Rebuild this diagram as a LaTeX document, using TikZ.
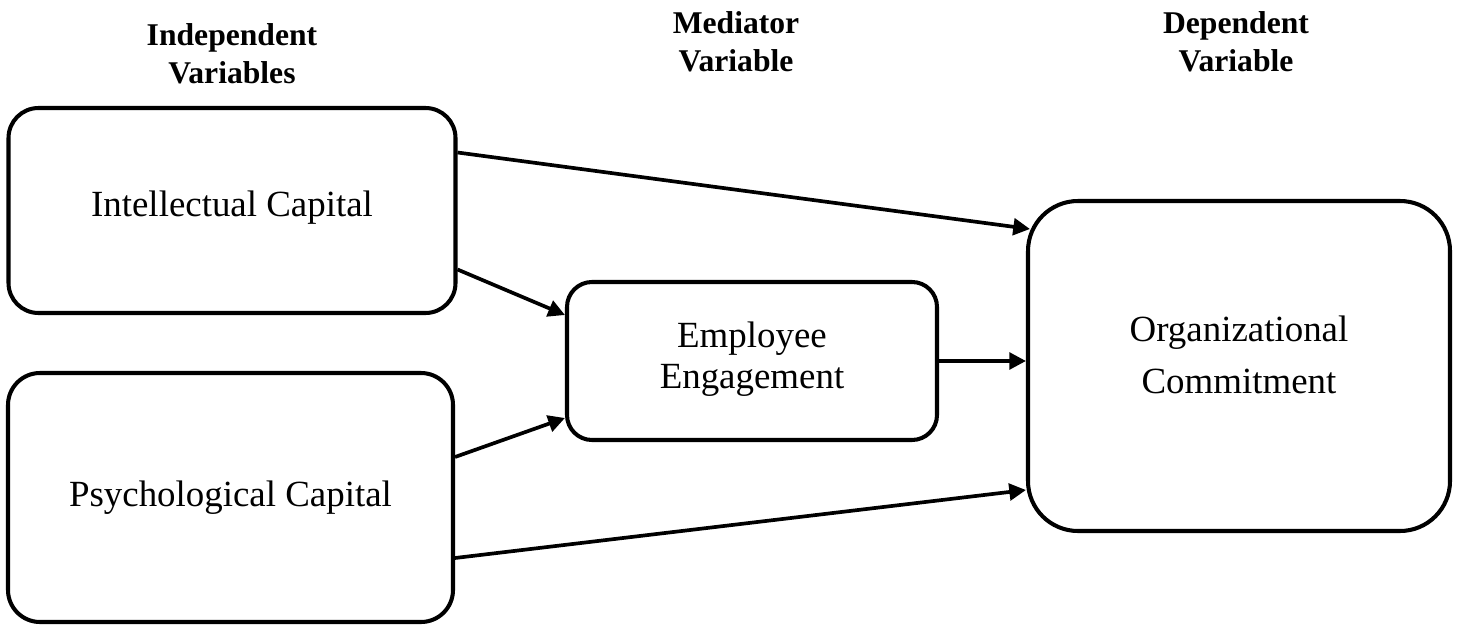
\documentclass[tikz,border=0pt]{standalone}
\usepackage{fontspec}
\setmainfont{Liberation Serif}
\usetikzlibrary{arrows.meta, positioning}

\begin{document}
\begin{tikzpicture}[
    >={Triangle[length=9.5pt, width=9.5pt]},
    % ── shared styles ──
    col title/.style={font=\fontsize{18}{21.6}\selectfont\bfseries, align=center},
    var box/.style={draw, line width=2.3pt, rounded corners=#1, align=center,
        font=\fontsize{21}{23}\selectfont},
    var box/.default=0.6cm,
    lift/.style={execute at end node={\rule[-#1]{0pt}{0pt}}},
    link/.style={->, line width=2.1pt},
]

% ══════════════════════════════════════════════════════════════════════
%  CANVAS
% ══════════════════════════════════════════════════════════════════════
\useasboundingbox (0,0) rectangle (29.18,-12.5);

% ══════════════════════════════════════════════════════════════════════
%  COLUMN TITLES
% ══════════════════════════════════════════════════════════════════════
\node[col title] (indep) at (4.64,-1.08)  {Independent\\Variables};
\node[col title] (medi)  at (14.72,-0.84) {Mediator\\Variable};
\node[col title] (dep)   at (24.72,-0.84) {Dependent\\Variable};

% ══════════════════════════════════════════════════════════════════════
%  VARIABLES
% ══════════════════════════════════════════════════════════════════════
% ── independent ──
\node[var box=0.6cm, minimum width=8.94cm, minimum height=4.1cm, lift=0.28cm]
    (intcap) at (4.64,-4.21) {Intellectual Capital};
\node[var box=0.64cm, minimum width=8.9cm, minimum height=4.98cm, lift=0.12cm]
    (psycap) at (4.61,-9.95) {Psychological Capital};

% ── mediator ──
\node[var box=0.5cm, minimum width=7.4cm, minimum height=3.16cm, lift=0.24cm]
    (engage) at (15.04,-7.22) {Employee\\Engagement};

% ── dependent ──
\node[var box=1.0cm, minimum width=8.44cm, minimum height=6.6cm, lift=0.44cm,
    font=\fontsize{21}{29.5}\selectfont]
    (commit) at (24.78,-7.32) {Organizational\\Commitment};

% ══════════════════════════════════════════════════════════════════════
%  PATHS
% ══════════════════════════════════════════════════════════════════════
\draw[link] ([yshift=1.16cm]intcap.east) -- ([xshift=0.08cm, yshift=2.74cm]commit.west);
\draw[link] ([yshift=-1.18cm]intcap.east) -- ([yshift=0.92cm]engage.west);
\draw[link] ([yshift=0.81cm]psycap.east) -- ([yshift=-1.14cm]engage.west);
\draw[link] (engage.east) -- (engage.east -| commit.west);
\draw[link] ([yshift=-1.21cm]psycap.east) -- ([yshift=-2.48cm]commit.west);

\end{tikzpicture}
\end{document}
